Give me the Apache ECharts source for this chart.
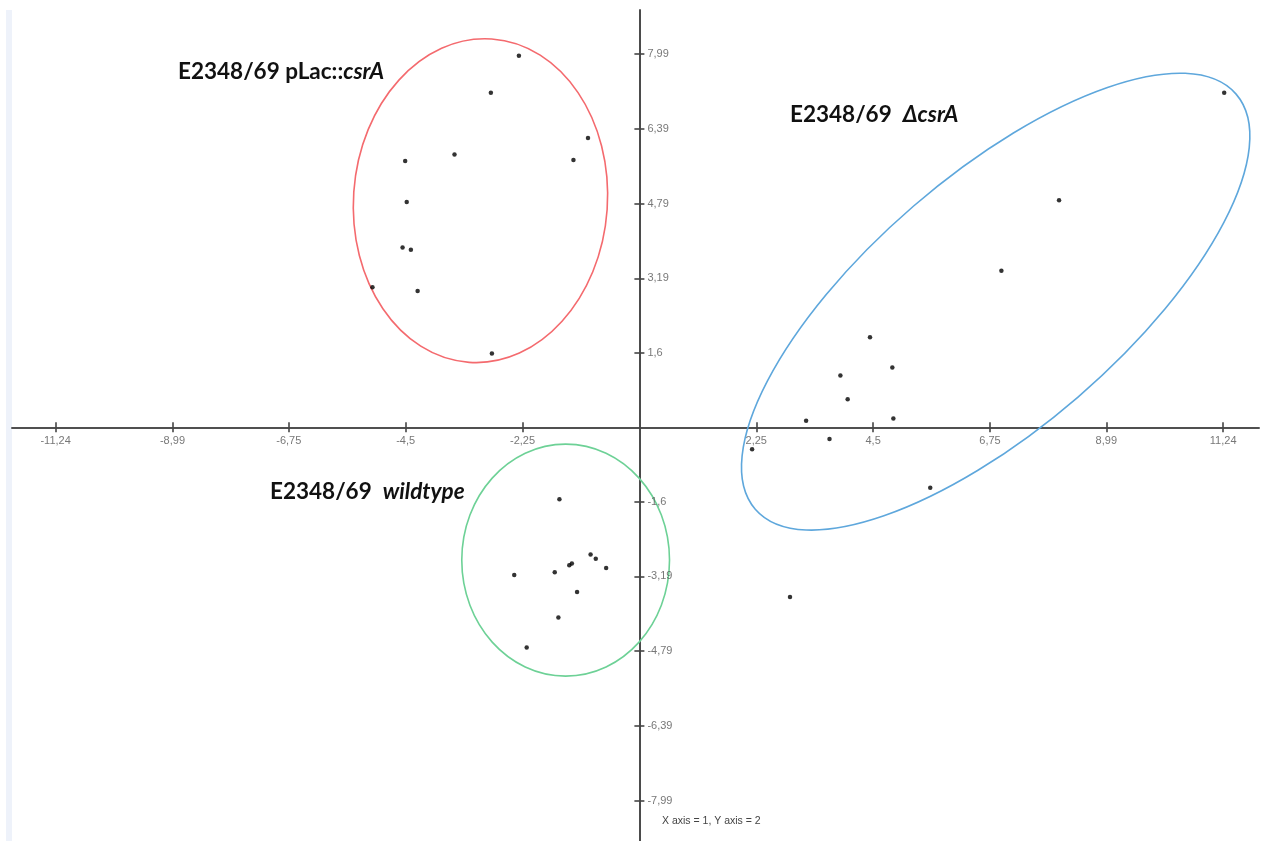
<!DOCTYPE html>
<html>
<head>
<meta charset="utf-8">
<title>E2348/69 strains – component plot</title>
<script src="https://cdn.jsdelivr.net/npm/echarts@6/dist/echarts.min.js"></script>
<style>
  html, body { margin: 0; padding: 0; background: #ffffff; }
  #chart { width: 1270px; height: 841px; }
</style>
</head>
<body>
<div id="chart"></div>
<script>
// Scores on component 1 (x) and component 2 (y) for each strain
const pLacCsrA = [
  [-2.32, 7.95], [-2.86, 7.16], [-0.99, 6.19], [-3.56, 5.84], [-1.27, 5.72], [-4.51, 5.70],
  [-4.48, 4.82], [-4.56, 3.85], [-4.40, 3.80], [-5.14, 3.00], [-4.27, 2.92], [-2.84, 1.58]
];
const deltaCsrA = [
  [11.26, 7.16], [8.08, 4.86], [6.97, 3.35], [4.44, 1.93], [4.87, 1.28], [3.87, 1.11],
  [4.01, 0.60], [3.21, 0.14], [4.89, 0.19], [3.66, -0.25], [2.17, -0.47], [5.60, -1.29]
];
const wildtype = [
  [-1.54, -1.54], [-0.94, -2.72], [-0.84, -2.81], [-1.35, -2.95], [-1.30, -2.91], [-0.64, -3.01],
  [-2.41, -3.16], [-1.63, -3.10], [-1.20, -3.52], [-1.56, -4.07], [-2.17, -4.71]
];
const ungrouped = [[2.90, -3.63]];

// Group ellipses: [centre x, centre y, semi-axis 1, semi-axis 2, tilt in degrees]
// semi-axes are given in component-1 units
const pLacEllipse = [-3.06, 4.85, 2.445, 3.12, -4];
const deltaEllipse = [6.86, 2.69, 6.115, 2.426, 40.8];
const wildtypeEllipse = [-1.42, -2.84, 2.0, 2.233, 0];

// Tick positions and their printed labels
const xTickValues = [-11.24, -8.99, -6.75, -4.5, -2.25, 2.25, 4.5, 6.75, 8.99, 11.24];
const yTickValues = [7.99, 6.39, 4.79, 3.19, 1.6, -1.6, -3.19, -4.79, -6.39, -7.99];
const tickLabel = v => String(v).replace('.', ',');

const axisColor = '#454545';
const tickFont = { color: '#555', fontSize: 11, fontFamily: 'Liberation Sans, Arial, sans-serif' };

function ellipseSeries(name, params, color) {
  return {
    name: name,
    type: 'custom',
    clip: false,
    silent: true,
    z: 1,
    data: [params],
    renderItem: function (p, api) {
      const c = api.coord([api.value(0), api.value(1)]);
      const unit = api.size([1, 0])[0];
      return {
        type: 'ellipse',
        x: c[0],
        y: c[1],
        rotation: api.value(4) * Math.PI / 180,
        shape: { cx: 0, cy: 0, rx: api.value(2) * unit, ry: api.value(3) * unit },
        style: { fill: 'none', stroke: color, lineWidth: 1.6 }
      };
    }
  };
}

function pointSeries(name, data) {
  return {
    name: name,
    type: 'scatter',
    data: data,
    symbol: 'circle',
    symbolSize: 4.5,
    itemStyle: { color: '#000' },
    z: 3
  };
}

// Tick labels sit next to the axes that cross at the origin
function tickLabelSeries(data, position, valueIndex) {
  return {
    type: 'scatter',
    data: data,
    symbolSize: 0,
    silent: true,
    z: 4,
    label: Object.assign({
      show: true,
      position: position,
      distance: 8,
      formatter: p => tickLabel(p.value[valueIndex])
    }, tickFont)
  };
}

const baseX = {
  type: 'value',
  min: -12.08,
  max: 11.93,
  splitLine: { show: false },
  axisLabel: { show: false },
  axisLine: { onZero: true, lineStyle: { color: axisColor, width: 1.6 } },
  axisTick: { show: true, length: 5, customValues: xTickValues, lineStyle: { color: axisColor, width: 1.6 } }
};
const baseY = {
  type: 'value',
  min: -8.85,
  max: 8.93,
  splitLine: { show: false },
  axisLabel: { show: false },
  axisLine: { onZero: true, lineStyle: { color: axisColor, width: 1.6 } },
  axisTick: { show: true, length: 5, customValues: yTickValues, lineStyle: { color: axisColor, width: 1.6 } }
};

const boldRich = {
  b: { fontFamily: 'Lato', fontWeight: 'bold', fontSize: 22.5, fill: '#111' },
  bi: { fontFamily: 'Lato', fontWeight: 'bold', fontStyle: 'italic', fontSize: 22.5, fill: '#111' }
};

const chart = echarts.init(document.getElementById('chart'), null, { renderer: 'canvas' });
chart.setOption({
  backgroundColor: '#ffffff',
  animation: false,
  grid: { left: 12, right: 11, top: 10, bottom: 0, containLabel: false, outerBoundsMode: 'none' },
  xAxis: [
    Object.assign({}, baseX, { position: 'bottom' }),
    Object.assign({}, baseX, { position: 'top' })
  ],
  yAxis: [
    Object.assign({}, baseY, { position: 'left' }),
    Object.assign({}, baseY, { position: 'right' })
  ],
  graphic: [
    { type: 'rect', left: 6, top: 10, shape: { width: 6, height: 831 }, style: { fill: '#eef2fa' }, silent: true },
    { type: 'text', left: 178, top: 60, style: { text: '{b|E2348/69 pLac::}{bi|csrA}', rich: boldRich } },
    { type: 'text', left: 790, top: 103, style: { text: '{b|E2348/69  }{bi|\u0394csrA}', rich: boldRich } },
    { type: 'text', left: 270, top: 480, style: { text: '{b|E2348/69  }{bi|wildtype}', rich: boldRich } },
    {
      type: 'text', left: 662, top: 816,
      style: { text: 'X axis = 1, Y axis = 2', fontFamily: 'Liberation Sans, Arial, sans-serif', fontSize: 10.5, fill: '#444' }
    }
  ],
  series: [
    ellipseSeries('E2348/69 pLac::csrA', pLacEllipse, '#f46a6e'),
    ellipseSeries('E2348/69 \u0394csrA', deltaEllipse, '#5ea7dc'),
    ellipseSeries('E2348/69 wildtype', wildtypeEllipse, '#6dd196'),
    pointSeries('E2348/69 pLac::csrA', pLacCsrA),
    pointSeries('E2348/69 \u0394csrA', deltaCsrA),
    pointSeries('E2348/69 wildtype', wildtype),
    pointSeries('ungrouped', ungrouped),
    tickLabelSeries(xTickValues.map(v => [v, 0]), 'bottom', 0),
    tickLabelSeries(yTickValues.map(v => [0, v]), 'right', 1)
  ]
});
</script>
</body>
</html>
